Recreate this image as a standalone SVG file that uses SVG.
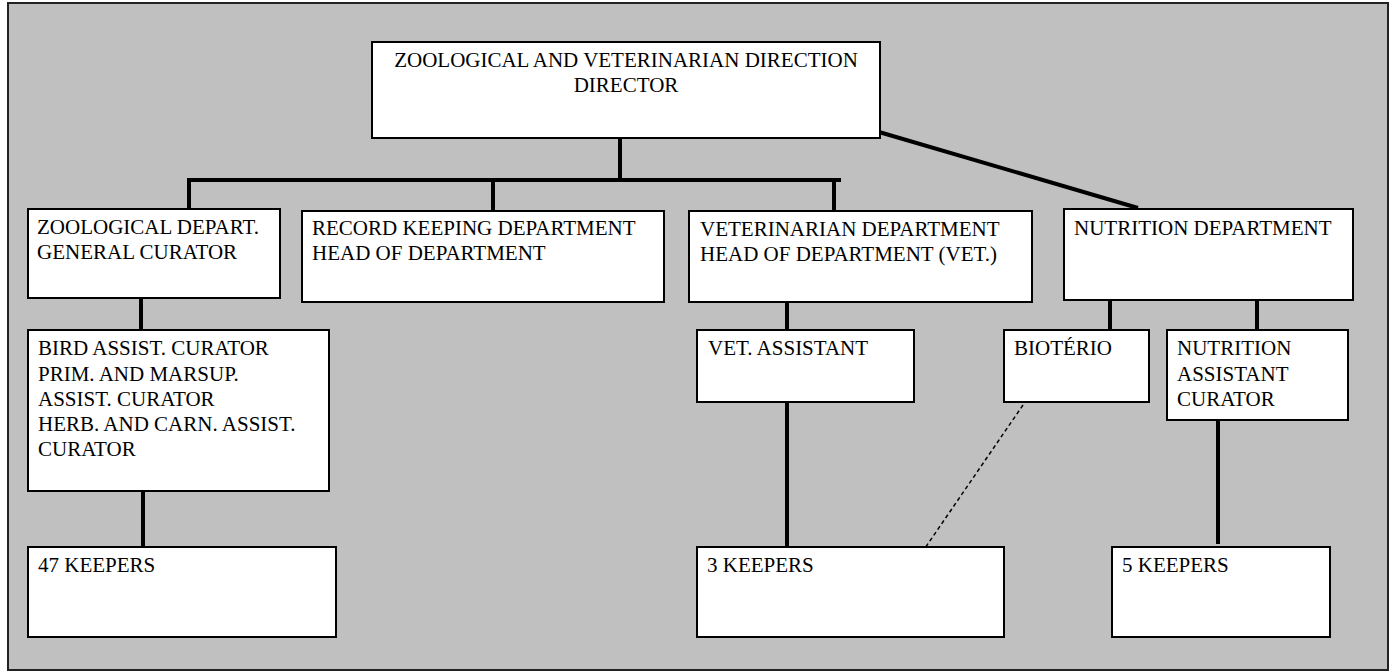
<svg xmlns="http://www.w3.org/2000/svg" width="1393" height="672" viewBox="0 0 1393 672">
<style>
.box{fill:#fff;stroke:#000;stroke-width:2}
.t{font-family:"Liberation Serif","Times New Roman",serif;font-size:21px;fill:#000}
.c{stroke:#000;stroke-width:4;fill:none}
.d{stroke:#000;stroke-width:1.5;fill:none;stroke-dasharray:4 3}
</style>
<rect x="0" y="0" width="1393" height="672" fill="#fff"/>
<rect id="frame" x="8" y="3" width="1380" height="667" fill="#c0c0c0" stroke="#222" stroke-width="2"/>
<g id="connectors">
<line class="c" x1="620" y1="138" x2="620" y2="180"/>
<line class="c" x1="187" y1="180" x2="841" y2="180"/>
<line class="c" x1="189" y1="178" x2="189" y2="214"/>
<line class="c" x1="493" y1="180" x2="493" y2="216"/>
<line class="c" x1="834" y1="180" x2="834" y2="216"/>
<line class="c" x1="879" y1="132" x2="1138" y2="208"/>
<line class="c" x1="141" y1="298" x2="141" y2="334"/>
<line class="c" x1="143" y1="491" x2="143" y2="546"/>
<line class="c" x1="787" y1="302" x2="787" y2="330"/>
<line class="c" x1="787" y1="402" x2="787" y2="546"/>
<line class="c" x1="1110" y1="300" x2="1110" y2="332"/>
<line class="c" x1="1257" y1="295" x2="1257" y2="330"/>
<line class="c" x1="1218" y1="420" x2="1218" y2="544"/>
<line class="d" x1="1023" y1="405" x2="923" y2="551"/>
</g>
<g id="director">
<rect class="box" x="372" y="42" width="508" height="96"/>
<text class="t" x="626" y="67" text-anchor="middle">ZOOLOGICAL AND VETERINARIAN DIRECTION</text>
<text class="t" x="626" y="92" text-anchor="middle">DIRECTOR</text>
</g>
<g id="zoological">
<rect class="box" x="28" y="209" width="252" height="89"/>
<text class="t" x="37" y="234">ZOOLOGICAL DEPART.</text>
<text class="t" x="37" y="259">GENERAL CURATOR</text>
</g>
<g id="record">
<rect class="box" x="302" y="211" width="362" height="91"/>
<text class="t" x="312" y="235">RECORD KEEPING DEPARTMENT</text>
<text class="t" x="312" y="260">HEAD OF DEPARTMENT</text>
</g>
<g id="veterinarian">
<rect class="box" x="689" y="211" width="343" height="91"/>
<text class="t" x="700" y="236">VETERINARIAN DEPARTMENT</text>
<text class="t" x="700" y="261">HEAD OF DEPARTMENT (VET.)</text>
</g>
<g id="nutrition">
<rect class="box" x="1064" y="209" width="289" height="91"/>
<text class="t" x="1074" y="235">NUTRITION DEPARTMENT</text>
</g>
<g id="curators">
<rect class="box" x="28" y="330" width="301" height="161"/>
<text class="t" x="38" y="355">BIRD ASSIST. CURATOR</text>
<text class="t" x="38" y="381">PRIM. AND MARSUP.</text>
<text class="t" x="38" y="406">ASSIST. CURATOR</text>
<text class="t" x="38" y="431">HERB. AND CARN. ASSIST.</text>
<text class="t" x="38" y="456">CURATOR</text>
</g>
<g id="vetassistant">
<rect class="box" x="697" y="330" width="217" height="72"/>
<text class="t" x="708" y="355">VET. ASSISTANT</text>
</g>
<g id="bioterio">
<rect class="box" x="1004" y="330" width="145" height="72"/>
<text class="t" x="1014" y="355">BIOTÉRIO</text>
</g>
<g id="nutritionassistant">
<rect class="box" x="1167" y="330" width="181" height="90"/>
<text class="t" x="1177" y="355">NUTRITION</text>
<text class="t" x="1177" y="381">ASSISTANT</text>
<text class="t" x="1177" y="406">CURATOR</text>
</g>
<g id="keepers47">
<rect class="box" x="28" y="547" width="308" height="90"/>
<text class="t" x="38" y="572">47 KEEPERS</text>
</g>
<g id="keepers3">
<rect class="box" x="697" y="547" width="307" height="90"/>
<text class="t" x="707" y="572">3 KEEPERS</text>
</g>
<g id="keepers5">
<rect class="box" x="1112" y="547" width="218" height="90"/>
<text class="t" x="1122" y="572">5 KEEPERS</text>
</g>
</svg>
